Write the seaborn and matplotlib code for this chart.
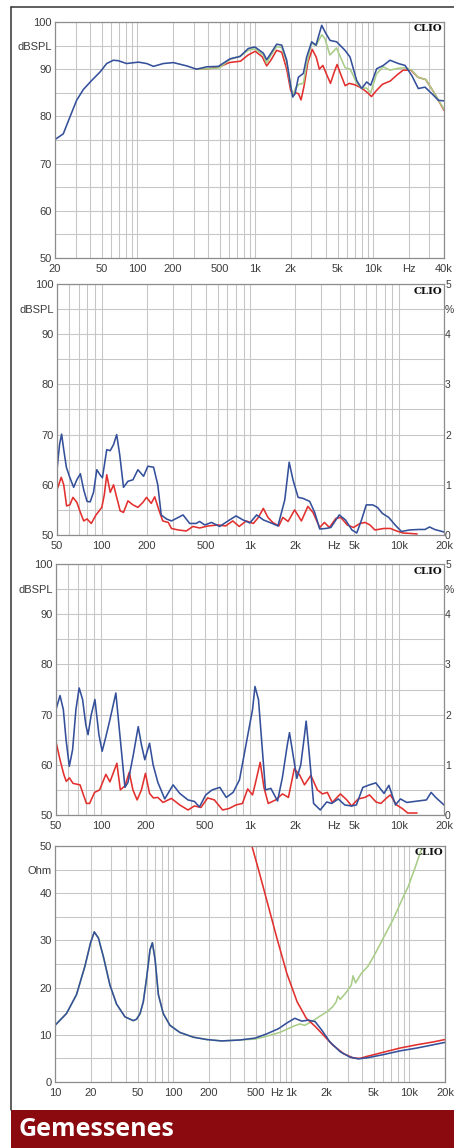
import numpy as np
import matplotlib
matplotlib.use("Agg")
import matplotlib.pyplot as plt
from matplotlib.ticker import FixedLocator, MultipleLocator, NullFormatter
from matplotlib.lines import Line2D
from matplotlib.patches import Rectangle
import seaborn as sns

# colours of the CLIO traces
BLUE = "#34509b"
RED = "#e2302e"
GREEN = "#a9cd88"

# ---- panel 1: frequency response, dBSPL ----
fr_blue_f = [20, 23.5, 26.8, 30.5, 34.8, 40.9, 48.2, 54.9, 62.5, 68.9, 81, 102, 120, 137, 166, 202,
             262, 318, 387, 487, 611, 743, 875, 996, 1173, 1251, 1353, 1521, 1679, 1850, 1974, 2080,
             2178, 2324, 2561, 2735, 3014, 3281, 3667, 3912, 4315, 4911, 5781, 6375, 7261, 8010,
             8831, 9550, 10740, 12220, 13930, 16390, 18680, 21280, 24230, 27600, 32500, 35840, 40000]
fr_blue_db = [75.1, 76.3, 79.9, 83.4, 85.7, 87.6, 89.4, 91.2, 91.9, 91.8, 91.2, 91.5, 91.2, 90.6, 91.2, 91.4,
              90.7, 90.0, 90.5, 90.6, 92.2, 92.7, 94.4, 94.7, 93.4, 92.0, 93.3, 95.3, 95.1, 91.9, 87.3, 84.1,
              84.8, 88.3, 89.1, 92.6, 95.8, 95.1, 99.3, 97.9, 96.1, 95.8, 94.0, 92.6, 87.6, 85.9,
              87.3, 86.6, 90.1, 90.8, 91.9, 91.2, 90.8, 88.7, 85.9, 86.2, 84.5, 83.4, 83.3]

fr_red_f = [315, 400, 500, 600, 750, 870, 1000, 1150, 1250, 1350, 1520, 1680, 1850, 2000, 2100, 2200,
            2330, 2450, 2600, 2800, 3050, 3300, 3500, 3750, 4100, 4350, 4700, 4950, 5300, 5800, 6300,
            7000, 8000, 9000, 9700, 10700, 12000, 14000, 16000, 18000, 21000, 24000, 28000, 33000, 40000]
fr_red_db = [90.0, 90.1, 90.5, 91.4, 91.7, 93.0, 93.8, 92.6, 90.7, 91.8, 94.0, 93.6, 90.0, 85.5, 84.5, 85.0,
             84.8, 83.5, 86.5, 91.5, 94.2, 92.5, 90.0, 90.8, 88.5, 87.0, 89.5, 91.0, 89.0, 86.5, 87.0,
             86.7, 86.0, 85.0, 84.2, 85.5, 86.8, 87.5, 88.8, 89.8, 89.8, 88.3, 87.8, 85.0, 81.3]

fr_green_f = [315, 400, 500, 600, 750, 870, 1000, 1170, 1250, 1350, 1520, 1680, 1850, 1980, 2080, 2200,
              2350, 2560, 2730, 3000, 3280, 3670, 3900, 4300, 4900, 5300, 5800, 6400, 7300, 8000, 8800,
              9550, 10700, 12200, 13900, 16400, 18700, 21300, 24000, 28000, 33000, 40000]
fr_green_db = [90.0, 90.1, 90.3, 92.0, 92.8, 94.0, 94.3, 93.0, 91.3, 92.8, 94.8, 94.6, 91.5, 87.0, 84.4, 86.0,
               86.8, 87.0, 91.0, 95.5, 95.0, 97.3, 96.5, 93.0, 94.5, 92.5, 90.3, 90.0, 87.0, 86.0, 86.0,
               85.0, 89.0, 90.5, 89.8, 90.2, 90.3, 89.8, 88.3, 87.8, 85.0, 81.5]

# ---- panel 2: distortion at 85 dB ----
d1_blue_f = [50, 52, 53.7, 55.5, 57.8, 60.9, 64.7, 68, 71.8, 75.6, 79.6, 83.6, 88, 92.6, 97.3, 101, 108,
             114, 120, 126, 132, 140, 150, 162, 175, 191, 204, 223, 238, 251, 272, 294, 327, 352, 390,
             431, 455, 492, 547, 620, 723, 800, 890, 990, 1100, 1220, 1350, 1530, 1700, 1820, 1930,
             2090, 2250, 2500, 2700, 2920, 3220, 3470, 3950, 4350, 4810, 5180, 5580, 6000, 6630, 7140,
             7700, 8500, 9380, 10350, 11700, 13500, 14900, 16000, 17300, 20000]
d1_blue_db = [63.0, 68.0, 70.1, 67.0, 63.5, 61.5, 59.5, 61.0, 62.2, 59.0, 56.7, 56.6, 58.5, 63.0, 62.0, 61.4, 67.0,
              66.8, 68.0, 70.0, 66.0, 59.5, 60.7, 61.0, 63.0, 61.7, 63.7, 63.5, 60.0, 54.0, 53.2, 52.8, 53.5, 54.0, 52.3,
              52.3, 52.7, 52.0, 52.5, 51.7, 53.0, 53.8, 53.0, 52.4, 54.0, 53.0, 52.5, 51.8, 57.0, 64.5, 61.0,
              57.5, 57.3, 56.7, 54.5, 51.2, 51.3, 51.5, 54.0, 53.0, 51.0, 50.4, 53.0, 56.0, 56.0, 55.5,
              54.3, 53.5, 52.0, 50.7, 51.0, 51.1, 51.1, 51.6, 51.1, 50.6]

d1_red_f = [50, 53.4, 55.5, 58, 61, 64, 68, 71.8, 75.6, 79.6, 85, 91.5, 100, 104, 108, 114, 120, 126, 133,
            140, 150, 162, 175, 189, 200, 215, 227, 242, 257, 280, 294, 327, 370, 410, 455, 517, 605, 680,
            760, 840, 935, 1045, 1130, 1220, 1310, 1410, 1550, 1650, 1790, 1980, 2200, 2430, 2630, 2920,
            3140, 3390, 3750, 4050, 4470, 4930, 5450, 5890, 6360, 6860, 7890, 8730, 9600, 10600, 12000, 13200]
d1_red_db = [59.0, 61.5, 60.0, 55.8, 56.0, 57.5, 56.5, 54.5, 52.8, 53.2, 52.3, 54.0, 55.5, 58.0, 62.0, 58.5, 60.0, 57.5, 54.8,
             54.5, 56.8, 56.0, 55.5, 56.5, 57.5, 56.3, 57.6, 55.0, 52.8, 52.5, 51.3, 51.0, 50.8, 51.7, 51.4, 51.8, 52.0, 51.8,
             52.8, 51.7, 52.8, 52.3, 53.5, 55.3, 53.5, 52.5, 51.8, 53.5, 52.7, 55.0, 52.8, 55.7, 54.5, 51.5,
             52.5, 51.5, 53.3, 53.5, 52.0, 51.5, 52.3, 52.5, 52.0, 51.0, 51.3, 51.3, 50.8, 50.4, 50.3, 50.2]

# ---- panel 3: distortion at 95 dB ----
d2_blue_f = [50, 53.2, 56, 58.4, 61.4, 64.6, 68, 71.5, 75.4, 79.2, 82, 86.2, 91.2, 97, 102, 108, 115, 126,
             134, 145, 152, 165, 178, 187, 197, 212, 224, 241, 268, 305, 338, 384, 424, 458, 505, 557, 628,
             693, 770, 850, 940, 1040, 1080, 1140, 1210, 1270, 1380, 1530, 1650, 1780, 1840, 1920, 2060,
             2190, 2300, 2380, 2500, 2670, 2960, 3270, 3530, 3910, 4320, 4790, 5170, 5710, 6320, 6980,
             7920, 8540, 9450, 10200, 11270, 13460, 15250, 16400, 17600, 20000]
d2_blue_db = [71.0, 73.8, 71.0, 65.0, 59.7, 63.0, 71.0, 75.3, 73.0, 68.0, 66.0, 70.0, 73.0, 66.0, 62.7, 65.6, 69.0, 74.3,
              66.0, 55.5, 56.5, 62.0, 67.6, 64.0, 61.0, 64.3, 60.0, 56.5, 53.2, 56.0, 54.3, 53.0, 52.7, 51.6, 54.0, 55.0, 55.5,
              53.5, 54.5, 57.0, 64.0, 71.0, 75.6, 73.0, 63.0, 55.0, 55.3, 52.8, 57.5, 64.0, 66.4, 63.0, 57.3,
              60.0, 65.0, 68.7, 62.0, 52.3, 51.0, 52.6, 52.3, 53.2, 52.0, 51.8, 52.0, 55.5, 56.0, 56.4,
              54.3, 55.9, 52.0, 53.2, 52.5, 52.8, 53.0, 54.5, 53.5, 52.0]

d2_red_f = [50, 53.2, 56.5, 58.6, 61.5, 65, 72.5, 75.4, 80, 84, 90.7, 98, 108, 115, 128, 135, 145, 155, 164,
            175, 187, 199, 212, 225, 241, 261, 297, 338, 384, 424, 469, 520, 577, 655, 725, 805, 890, 965,
            1040, 1090, 1170, 1240, 1325, 1485, 1650, 1810, 1980, 2150, 2320, 2560, 2830, 3060, 3300, 3560,
            4040, 4460, 4800, 5320, 5890, 6330, 7000, 7540, 8320, 8730, 9630, 10600, 11400, 12550, 13200]
d2_red_db = [64.6, 61.0, 58.0, 56.7, 57.4, 56.3, 56.0, 54.5, 52.3, 52.3, 54.5, 55.0, 58.1, 56.6, 60.3, 55.0, 55.8, 58.5, 55.0,
             53.0, 55.0, 58.3, 54.3, 53.4, 53.5, 52.5, 53.3, 52.0, 51.0, 51.8, 51.5, 53.4, 53.0, 51.0, 51.3, 52.0, 52.3, 55.2,
             54.0, 56.5, 60.5, 55.5, 52.3, 53.0, 54.2, 53.5, 59.2, 58.0, 56.0, 57.9, 55.0, 54.2, 54.5, 52.5,
             54.2, 53.0, 51.8, 53.2, 53.5, 54.0, 52.6, 52.3, 53.5, 54.0, 52.0, 51.2, 50.4, 50.4, 50.4]

# ---- panel 4: impedance, Ohm ----
imp_blue_f = [10, 12.5, 15.2, 17.9, 20, 21.5, 23.3, 25.7, 29.2, 33.2, 39.1, 46, 49, 52.5, 55.9, 59.6, 63.7,
              66.7, 70.3, 75, 82.5, 94, 114, 148, 192, 257, 367, 493, 620, 780, 917, 1070, 1225, 1395,
              1590, 1810, 2120, 2600, 3120, 3670, 4330, 6010, 8340, 11600, 16000, 20000]
imp_blue_ohm = [12.0, 14.5, 18.5, 24.5, 29.5, 31.8, 30.5, 26.5, 20.5, 16.5, 13.8, 13.0, 13.3, 14.5, 17.0, 22.0, 28.0,
                29.5, 26.0, 18.5, 14.5, 12.0, 10.5, 9.5, 9.0, 8.7, 8.9, 9.3, 10.2, 11.3, 12.5, 13.5, 12.9, 13.1,
                12.8, 11.0, 8.5, 6.4, 5.3, 4.9, 5.1, 5.8, 6.6, 7.2, 7.9, 8.4]

imp_red_f = [464, 528, 620, 755, 917, 1120, 1340, 1590, 1860, 2250, 2770, 3340, 3810, 4330, 6010, 8340,
             11600, 16000, 20000]
imp_red_ohm = [50.0, 45.0, 38.5, 30.5, 23.0, 17.0, 13.5, 11.8, 10.0, 7.8, 6.0, 5.1, 5.0, 5.4, 6.3, 7.2,
               7.9, 8.5, 9.0]

imp_green_f = [493, 620, 800, 1040, 1180, 1300, 1490, 1760, 2040, 2250, 2400, 2480, 2600, 2920, 3220,
               3330, 3500, 3910, 4450, 5080, 6010, 7300, 8600, 9800, 11200, 12700]
imp_green_ohm = [9.1, 9.7, 10.5, 11.8, 12.3, 12.0, 12.8, 14.0, 15.0, 16.0, 17.0, 18.2, 17.5, 19.0, 20.5,
                 22.5, 21.0, 23.0, 24.5, 27.0, 30.5, 34.5, 38.5, 41.5, 45.5, 49.5]
# below 500 Hz the green trace lies under the blue one
n_low = 27
imp_green_f = imp_blue_f[:n_low] + imp_green_f
imp_green_ohm = imp_blue_ohm[:n_low] + imp_green_ohm

sns.set_style("white")
plt.rcParams["font.family"] = ["Liberation Sans", "DejaVu Sans"]

W, H = 454, 1148
fig = plt.figure(figsize=(W / 100, H / 100), dpi=100)


def panel(left, top, right, bottom):
    return fig.add_axes([left / W, 1 - bottom / H, (right - left) / W, (bottom - top) / H])


def style(ax, xlim, ylim, xticks, xlabels, yticks, ylabels, ystep):
    ax.set_xscale("log")
    ax.set_xlim(*xlim)
    ax.set_ylim(*ylim)
    ax.set_xticks(xticks, labels=xlabels)
    decades = [m * 10.0 ** e for e in range(0, 6) for m in range(1, 10)]
    ax.xaxis.set_minor_locator(FixedLocator([d for d in decades if xlim[0] <= d <= xlim[1]]))
    ax.xaxis.set_minor_formatter(NullFormatter())
    ax.set_yticks(yticks, labels=ylabels)
    ax.yaxis.set_minor_locator(MultipleLocator(ystep))
    ax.xaxis.remove_overlapping_locs = False
    ax.yaxis.remove_overlapping_locs = False
    ax.grid(False)
    ax.grid(which="minor", color="#c6c6c6", lw=0.75)
    ax.set_axisbelow(True)
    ax.tick_params(which="both", length=0, labelsize=8, labelcolor="#3c3c3c")
    ax.tick_params(axis="x", pad=4)
    ax.tick_params(axis="y", pad=2.5)
    for sp in ax.spines.values():
        sp.set_color("#8c8c8c")
        sp.set_linewidth(0.9)
    ax.set_xlabel("")
    ax.set_ylabel("")
    ax.text(0.995, 0.99, "CLIO", transform=ax.transAxes, ha="right", va="top",
            family="DejaVu Serif", fontweight="bold", fontsize=7.3, color="#111111")


def percent_axis(ax):
    ax2 = ax.twinx()
    ax2.set_ylim(50, 100)
    ax2.set_yticks([100, 95, 90, 80, 70, 60, 50], labels=["5", "%", "4", "3", "2", "1", "0"])
    ax2.tick_params(length=0, labelsize=7.5, labelcolor="#3c3c3c", pad=0.8)
    for sp in ax2.spines.values():
        sp.set_visible(False)


def trace(ax, f, v, color):
    sns.lineplot(x=f, y=v, ax=ax, color=color, lw=1.15, sort=False)


db_ticks = [50, 60, 70, 80, 90, 95, 100]
db_labels = ["50", "60", "70", "80", "90", "dBSPL", "100"]

# panel 1
ax1 = panel(55, 22, 444, 258)
trace(ax1, fr_red_f, fr_red_db, RED)
trace(ax1, fr_green_f, fr_green_db, GREEN)
trace(ax1, fr_blue_f, fr_blue_db, BLUE)
style(ax1, (20, 40000), (50, 100),
      [20, 50, 100, 200, 500, 1000, 2000, 5000, 10000, 20000, 40000],
      ["20", "50", "100", "200", "500", "1k", "2k", "5k", "10k", "Hz", "40k"],
      db_ticks, db_labels, 5)

dist_xt = [50, 100, 200, 500, 1000, 2000, 3650, 5000, 10000, 20000]
dist_xl = ["50", "100", "200", "500", "1k", "2k", "Hz", "5k", "10k", "20k"]

# panel 2
ax2 = panel(57, 284, 444, 535)
trace(ax2, d1_red_f, d1_red_db, RED)
trace(ax2, d1_blue_f, d1_blue_db, BLUE)
style(ax2, (50, 20000), (50, 100), dist_xt, dist_xl, db_ticks, db_labels, 5)
percent_axis(ax2)

# panel 3
ax3 = panel(56, 564, 444, 815)
trace(ax3, d2_red_f, d2_red_db, RED)
trace(ax3, d2_blue_f, d2_blue_db, BLUE)
style(ax3, (50, 20000), (50, 100), dist_xt, dist_xl, db_ticks, db_labels, 5)
percent_axis(ax3)

# panel 4
ax4 = panel(55, 846, 445, 1082)
trace(ax4, imp_green_f, imp_green_ohm, GREEN)
trace(ax4, imp_red_f, imp_red_ohm, RED)
trace(ax4, imp_blue_f, imp_blue_ohm, BLUE)
style(ax4, (10, 20000), (0, 50),
      [10, 20, 50, 100, 200, 500, 750, 1000, 2000, 5000, 10000, 20000],
      ["10", "20", "50", "100", "200", "500", "Hz", "1k", "2k", "5k", "10k", "20k"],
      [0, 10, 20, 30, 40, 45, 50], ["0", "10", "20", "30", "40", "Ohm", "50"], 5)

# outer frame and title bar
fig.add_artist(Line2D([11 / W, 11 / W], [1 - 1110 / H, 1 - 7 / H], color="#333333", lw=1.1))
fig.add_artist(Line2D([11 / W, 1], [1 - 7 / H, 1 - 7 / H], color="#333333", lw=1.1))
fig.add_artist(Rectangle((11 / W, 0), 1 - 11 / W, 38 / H, transform=fig.transFigure,
                         facecolor="#8b0a10", edgecolor="none"))
fig.text(18 / W, 19 / H, "Gemessenes", ha="left", va="center", color="white",
         family=["Open Sans", "DejaVu Sans"], fontweight="bold", fontsize=18)

fig.savefig("out.png", dpi=100)
